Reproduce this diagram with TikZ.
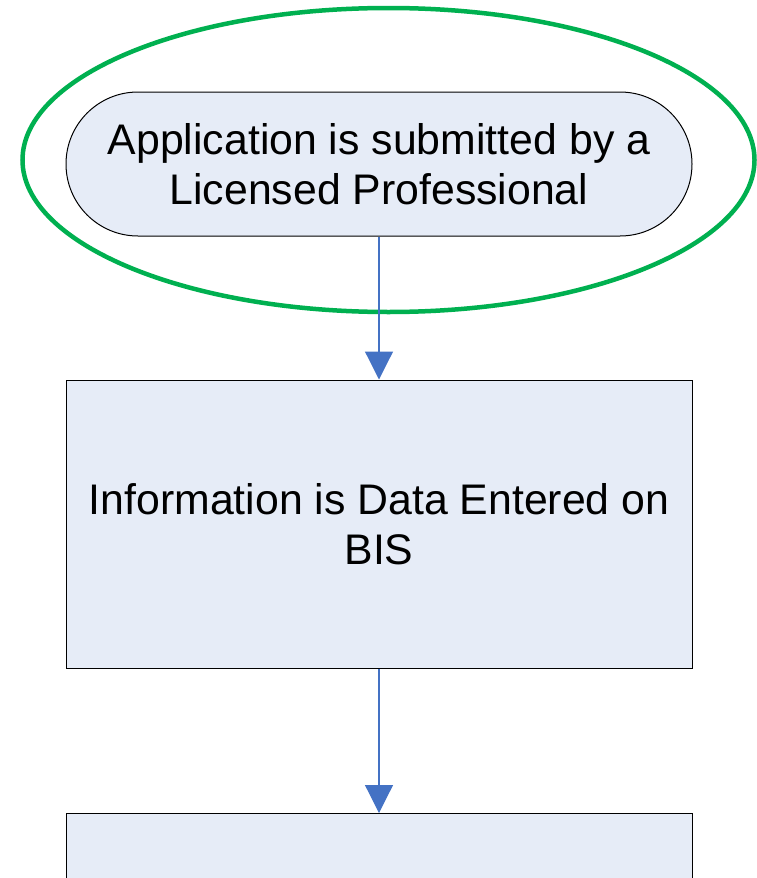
\documentclass[tikz,border=0pt]{standalone}
\usepackage{fontspec}
\setmainfont{Liberation Sans}
\usetikzlibrary{arrows.meta,shapes.misc}
\definecolor{boxfill}{HTML}{E6ECF7}
\definecolor{flowblue}{HTML}{4472C4}
\definecolor{ringgreen}{HTML}{00B050}
\begin{document}
\begin{tikzpicture}[x=1pt,y=-1pt,
  textstyle/.style={font=\fontsize{42.8}{50}\selectfont, align=center, text=black},
  procbox/.style={draw=black, line width=1pt, fill=boxfill, minimum width=626pt, inner sep=0pt, textstyle},
  flow/.style={draw=flowblue, line width=1.2pt, -{Triangle[width=28pt,length=28pt]}, color=flowblue}]
\useasboundingbox (0,0) rectangle (756,878);
% start terminal
\node[procbox, rounded rectangle, minimum height=144pt] (start) at (379,164)
  {Application is submitted by a\\Licensed Professional};
% highlight ring
\draw[ringgreen, line width=4.5pt] (388.5,160) ellipse [x radius=366, y radius=152];
% process steps
\node[procbox, rectangle, minimum height=288pt] (entry) at (379,524)
  {Information is Data Entered on\\BIS};
\path[clip] (0,0) rectangle (756,878);
\node[procbox, rectangle, minimum height=144pt, anchor=north] (next) at (379,813) {};
\draw[flow] (start.south) -- (entry.north);
\draw[flow] (entry.south) -- (next.north);
\end{tikzpicture}
\end{document}
